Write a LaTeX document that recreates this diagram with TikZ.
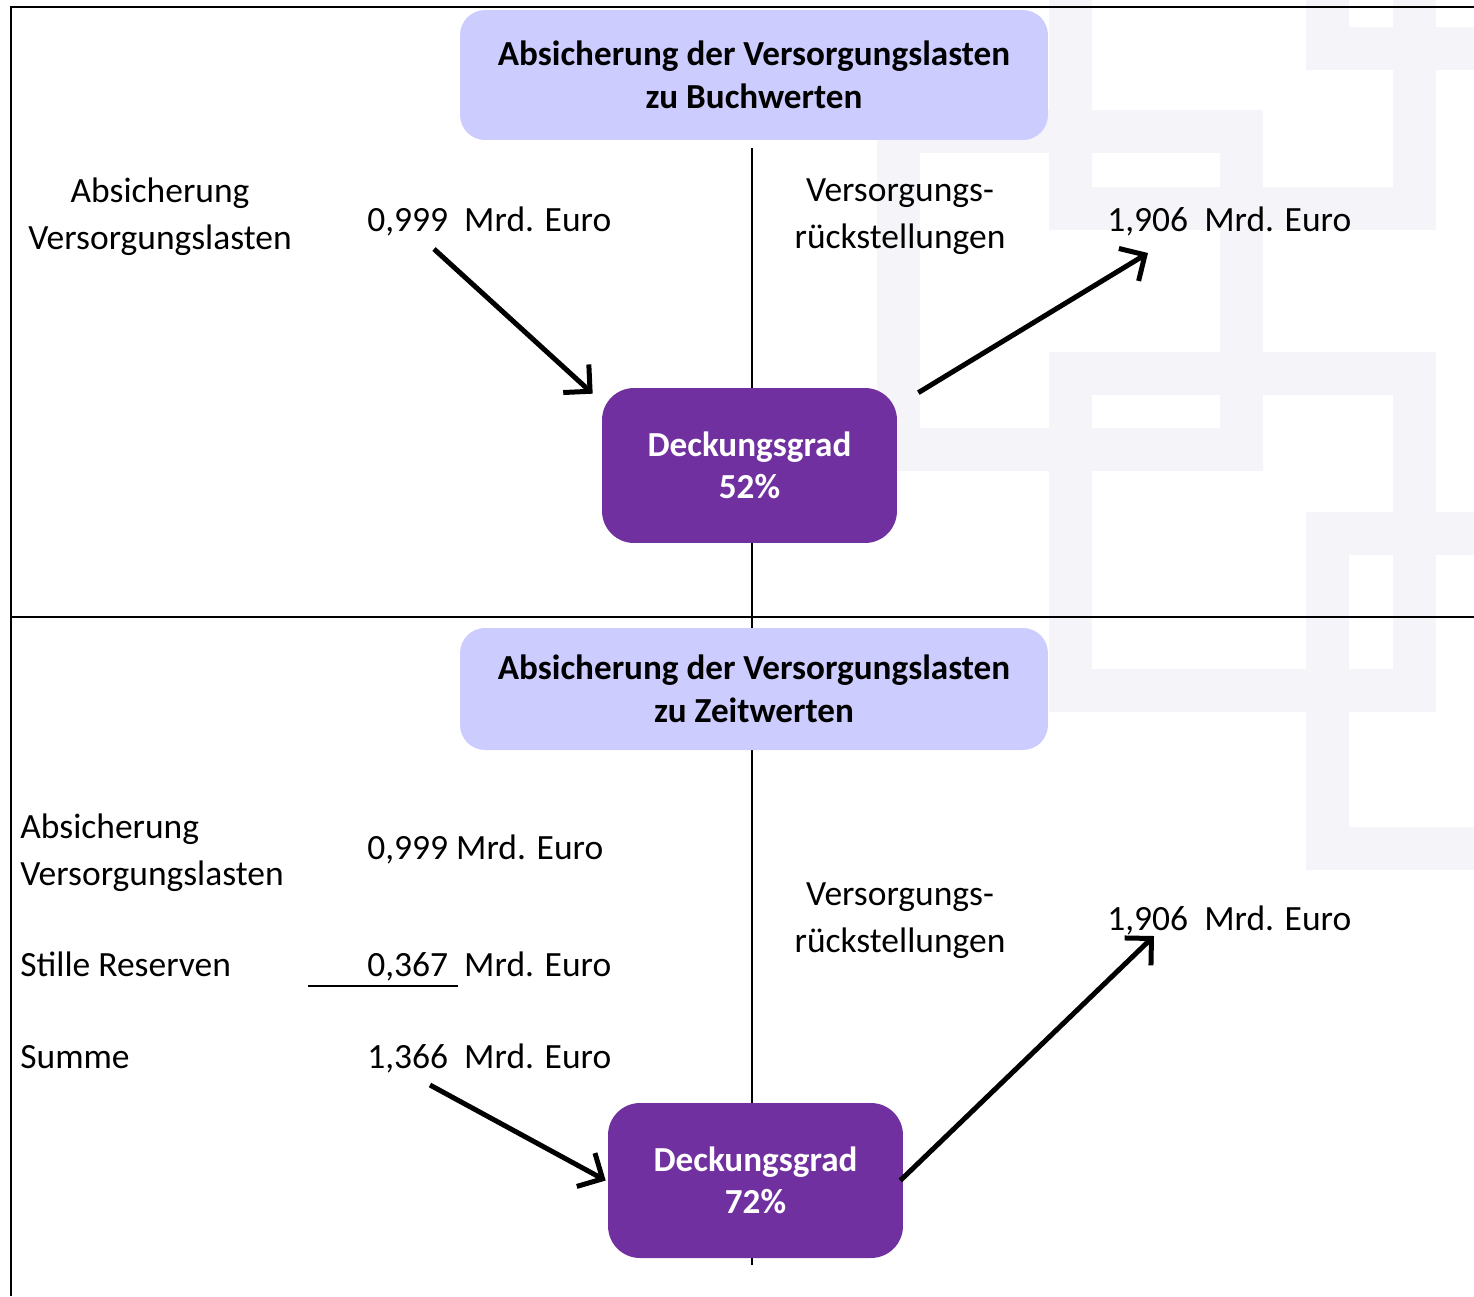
\documentclass[tikz,border=0pt]{standalone}
\usepackage{fontspec}
\setmainfont{Carlito}
\usetikzlibrary{arrows.meta}

\definecolor{headblue}{HTML}{CCCCFF}
\definecolor{gradpurple}{HTML}{7030A0}
\definecolor{markgray}{HTML}{F5F4F9}

\begin{document}
\begin{tikzpicture}[x=0.02cm, y=-0.02cm,
  headbox/.style={fill=headblue, rounded corners=0.5cm, minimum width=11.76cm, align=center,
    font=\bfseries\fontsize{20}{24.5}\selectfont},
  gradbox/.style={fill=gradpurple, text=white, rounded corners=0.64cm, minimum width=5.9cm,
    minimum height=3.1cm, align=center, font=\bfseries\fontsize{20}{24}\selectfont},
  txt/.style={font=\fontsize{20.2}{26.6}\selectfont, inner sep=0pt},
  divider/.style={line width=0.04cm},
  wmark/.style={draw=markgray, line width=0.86cm},
  flowarrow/.style={line width=0.1cm, -{Straight Barb[length=0.38cm, width=0.76cm, line width=0.1cm]}}]
  \useasboundingbox (0,0) rectangle (1474,1296);

  % watermark frames
  \begin{scope}
    \clip (0,0) rectangle (1474,1296);
    \foreach \xa/\ya/\xb/\yb in {898.5/131.5/1241.5/449.5, 1070.5/-109.5/1414.5/208.5,
        1070.5/373.5/1414.5/690.5, 1327.5/533.5/1671.5/848.5, 1327.5/-288/1671.5/48.5} {
      \draw[wmark] (\xa,\ya) rectangle (\xb,\yb);
    }
  \end{scope}

  % frame and dividers
  \draw[divider] (11,1296) -- (11,7) -- (1474,7);
  \draw[divider] (11,617) -- (1474,617);
  \draw[divider] (752,148) -- (752,628);
  \draw[divider] (752,750) -- (752,1265);

  % boxes
  \node[headbox, minimum height=2.6cm] (buch) at (754,75) {Absicherung der Versorgungslasten\\zu Buchwerten};
  \node[headbox, minimum height=2.44cm] (zeit) at (754,689) {Absicherung der Versorgungslasten\\zu Zeitwerten};
  \node[gradbox] (dg1) at (749.5,465.5) {Deckungsgrad\\52\%};
  \node[gradbox] (dg2) at (755.5,1180.5) {Deckungsgrad\\72\%};

  % upper labels
  \node[txt, align=center] (abs1) at (160,217) {Absicherung\\Versorgungslasten};
  \node[txt, anchor=base west] (val1) at (367,231) {0,999~~Mrd. Euro};
  \node[txt, align=center] (rst1) at (900,217) {Versorgungs-\\rückstellungen};
  \node[txt, anchor=base west] (val2) at (1107,231) {1,906~~Mrd. Euro};

  % lower labels
  \node[txt, align=left, anchor=west] (abs2) at (20,853) {Absicherung\\Versorgungslasten};
  \node[txt, anchor=base west] (val3) at (367,859) {0,999 Mrd. Euro};
  \node[txt, anchor=base west] (res) at (20,976) {Stille Reserven};
  \node[txt, anchor=base west] (val4) at (367,976) {0,367~~Mrd. Euro};
  \node[txt, anchor=base west] (sum) at (20,1068) {Summe};
  \node[txt, anchor=base west] (val5) at (367,1068) {1,366~~Mrd. Euro};
  \node[txt, align=center] (rst2) at (900,921) {Versorgungs-\\rückstellungen};
  \node[txt, anchor=base west] (val6) at (1107,930) {1,906~~Mrd. Euro};
  \draw[divider] (308,986) -- (458,986);

  % arrows
  \coordinate (in1) at (434,249);
  \coordinate (out1) at (1148,253);
  \coordinate (in2) at (430,1085);
  \coordinate (out2) at (1154,936);
  \draw[flowarrow] (in1) -- ([shift={(-9,6)}]dg1.north west);
  \draw[flowarrow] ([shift={(21,5)}]dg1.north east) -- (out1);
  \draw[flowarrow] (in2) -- ([shift={(-2,0)}]dg2.west);
  \draw[flowarrow] ([shift={(-3,0)}]dg2.east) -- (out2);
\end{tikzpicture}
\end{document}
